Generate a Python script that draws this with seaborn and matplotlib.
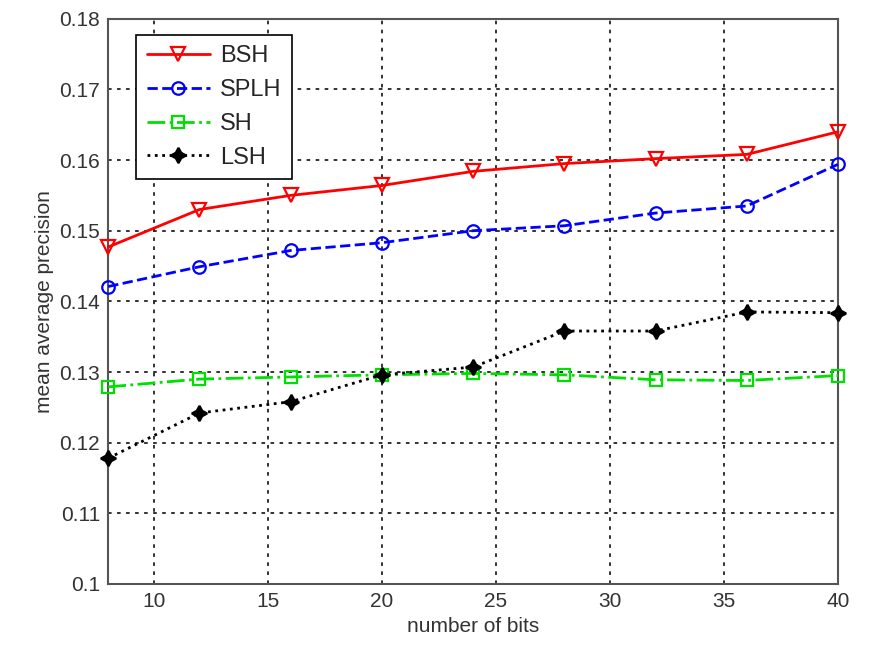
import pandas as pd
import matplotlib
matplotlib.use('Agg')
import matplotlib.pyplot as plt
import seaborn as sns

# values
bits = [8, 12, 16, 20, 24, 28, 32, 36, 40]
bsh = [0.1477, 0.1530, 0.1550, 0.1564, 0.1584, 0.1595, 0.1602, 0.1608, 0.1640]
splh = [0.1421, 0.1449, 0.1472, 0.1483, 0.1500, 0.1507, 0.1525, 0.1535, 0.1594]
sh = [0.1279, 0.1290, 0.1293, 0.1296, 0.1298, 0.1296, 0.1289, 0.1288, 0.1295]
lsh = [0.1178, 0.1242, 0.1258, 0.1296, 0.1307, 0.1358, 0.1358, 0.1385, 0.1384]

sns.set_style('white')
plt.rcParams['font.family'] = ['Liberation Sans', 'DejaVu Sans']

fig = plt.figure(figsize=(8.73, 6.46), dpi=100)
ax = fig.add_axes([0.124, 0.096, 0.836, 0.875])

styles = [
    ('BSH', bsh, 'red', '-', 'v', 'none', 10),
    ('SPLH', splh, 'blue', '--', 'o', 'none', 9),
    ('SH', sh, '#00e000', '-.', 's', 'none', 9),
    ('LSH', lsh, 'black', ':', (4, 1, 0), 'black', 11),
]
for name, vals, color, ls, mk, fc, ms in styles:
    df = pd.DataFrame({'bits': bits, 'map': vals})
    sns.lineplot(data=df, x='bits', y='map', ax=ax, color=color, linestyle=ls,
                 linewidth=2, marker=mk, markersize=ms, markerfacecolor=fc,
                 markeredgecolor=color, markeredgewidth=1.6, label=name,
                 clip_on=False, zorder=3)

ax.set_xlim(8, 40)
ax.set_ylim(0.1, 0.18)
ax.set_xticks([10, 15, 20, 25, 30, 35, 40])
ax.set_yticks([0.1, 0.11, 0.12, 0.13, 0.14, 0.15, 0.16, 0.17, 0.18])
ax.set_yticklabels(['0.1', '0.11', '0.12', '0.13', '0.14', '0.15', '0.16', '0.17', '0.18'])
ax.grid(True, color='#222222', linestyle=(0, (2, 3)), linewidth=1.3)
ax.tick_params(labelsize=15, colors='#333333', length=0, pad=6)
for s in ax.spines.values():
    s.set_color('#555555')
    s.set_linewidth(1.5)

ax.set_xlabel('number of bits', fontsize=15, color='#333333', labelpad=4)
ax.set_ylabel('mean average precision', fontsize=15, color='#333333', labelpad=4)

leg = ax.legend(loc='upper left', bbox_to_anchor=(0.038, 0.972), fontsize=17,
                frameon=True, fancybox=False, handlelength=2.7, borderpad=0.45,
                labelspacing=0.5, handletextpad=0.4, borderaxespad=0)
leg.get_frame().set_edgecolor('black')
leg.get_frame().set_linewidth(1.2)
leg.get_frame().set_alpha(1)

fig.savefig('out.png', dpi=100)
